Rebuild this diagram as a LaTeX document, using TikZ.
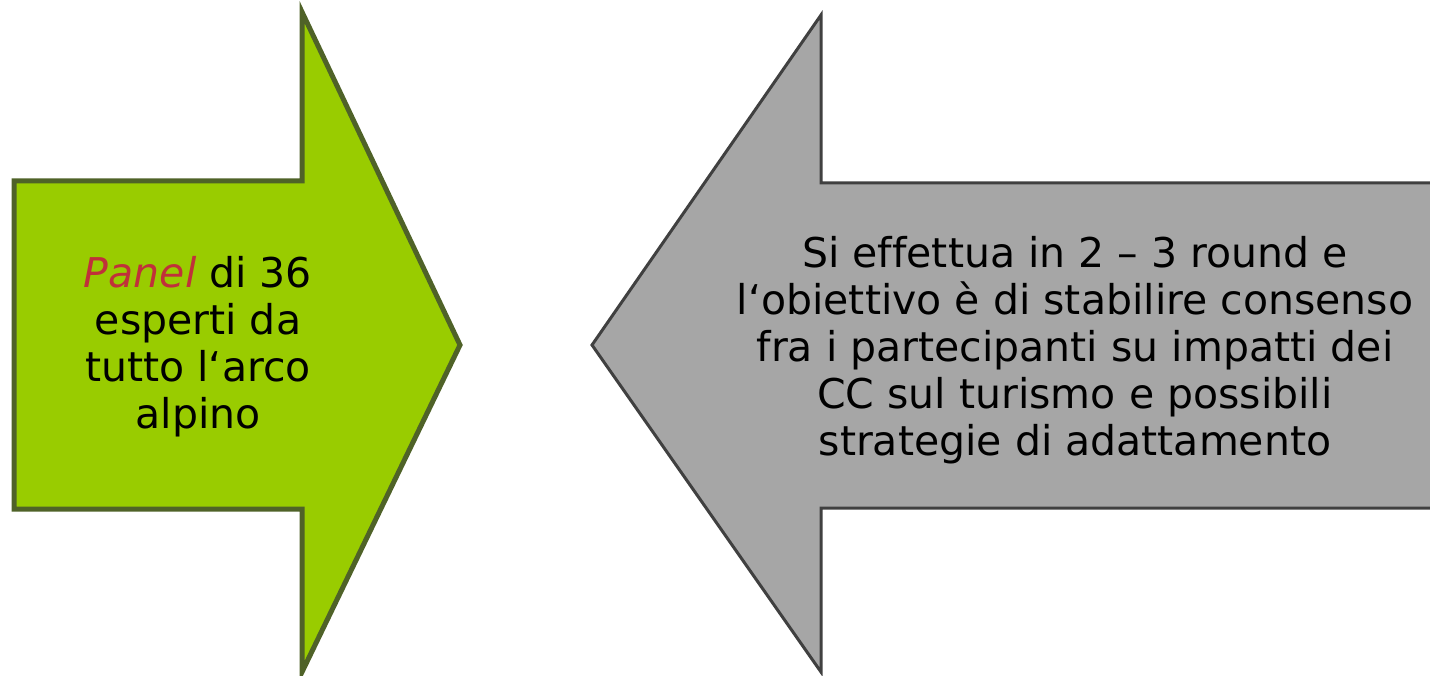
\documentclass[tikz,border=0pt]{standalone}
\usepackage{fontspec}
\setmainfont{DejaVu Sans}[Ligatures=NoCommon]
\definecolor{greenfill}{HTML}{99CC00}
\definecolor{greenline}{HTML}{4F6228}
\definecolor{grayfill}{HTML}{A6A6A6}
\definecolor{grayline}{HTML}{404040}
\definecolor{panelred}{HTML}{C0313A}
\tikzset{
  greenarrow/.style={fill=greenfill,draw=greenline,line width=5pt,line join=miter},
  grayfillstyle/.style={fill=grayfill},
  grayline/.style={draw=grayline,line width=3pt,line join=miter},
  bodytext/.style={font=\fontsize{41}{47}\selectfont,align=center,text=black,inner sep=0pt}
}
\begin{document}
\begin{tikzpicture}[x=1pt,y=-1pt]
\useasboundingbox (0,0) rectangle (1430,676);
% green arrow
\draw[greenarrow] (14,181) -- (302,181) -- (302,12) -- (460,345) -- (302,672) -- (302,509) -- (14,509) -- cycle;
% gray arrow
\fill[grayfillstyle] (1440,183) -- (821,183) -- (821,15) -- (592,345) -- (821,672) -- (821,508) -- (1440,508) -- cycle;
\draw[grayline] (1440,183) -- (821,183) -- (821,15) -- (592,345) -- (821,672) -- (821,508) -- (1440,508);
\node[bodytext] (panel) at (198,347) {{\color{panelred}\itshape Panel} di 36\\esperti da\\tutto l‘arco\\alpino};
\node[bodytext] (delphi) at (1075,350) {Si effettua in 2 – 3 round e\\l‘obiettivo è di stabilire consenso\\fra i partecipanti su impatti dei\\CC sul turismo e possibili\\strategie di adattamento};
\end{tikzpicture}
\end{document}
